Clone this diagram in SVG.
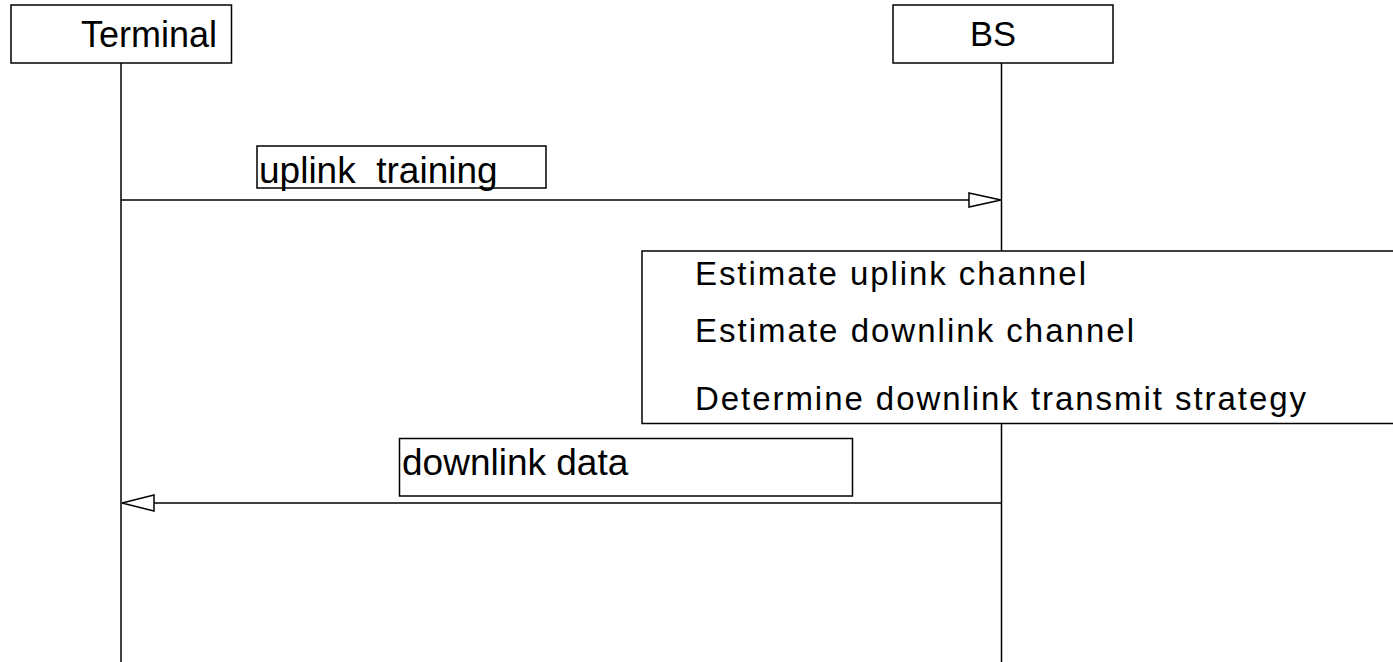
<svg xmlns="http://www.w3.org/2000/svg" width="1393" height="662" viewBox="0 0 1393 662">
<style>
.box{fill:#fff;stroke:#000;stroke-width:1.5}
.line{stroke:#000;stroke-width:1.5;fill:none}
.head{fill:#fff;stroke:#000;stroke-width:1.5;stroke-linejoin:miter}
text{font-family:"Liberation Sans",Arial,sans-serif;fill:#000}
.t{font-size:36px}
.p{font-size:33px}
</style>
<rect width="1393" height="662" fill="#fff"/>
<g id="lifelines">
<line class="line" x1="121" y1="63" x2="121" y2="662"/>
<line class="line" x1="1001.5" y1="63" x2="1001.5" y2="662"/>
</g>
<g id="terminal">
<rect class="box" x="11" y="5" width="220.5" height="58"/>
<text class="t" x="81" y="47">Terminal</text>
</g>
<g id="bs">
<rect class="box" x="893" y="5" width="220" height="58"/>
<text class="t" x="970" y="46" style="font-size:34.5px">BS</text>
</g>
<g id="connectors">
<line class="line" x1="121" y1="200" x2="969" y2="200"/>
<polygon class="head" points="969,193 1001,200 969,207"/>
<line class="line" x1="154" y1="503" x2="1001.5" y2="503"/>
<polygon class="head" points="154,495 122,503 154,511"/>
</g>
<g id="uplink-label">
<rect class="box" x="257" y="146" width="289" height="42"/>
<text class="t" x="259" y="183" style="font-size:37px" xml:space="preserve">uplink  training</text>
</g>
<g id="process">
<rect class="box" x="642" y="251" width="760" height="172.5"/>
<text class="p" x="695" y="285" textLength="391" lengthAdjust="spacing">Estimate uplink channel</text>
<text class="p" x="695" y="342" textLength="439" lengthAdjust="spacing">Estimate downlink channel</text>
<text class="p" x="695" y="410" textLength="611" lengthAdjust="spacing">Determine downlink transmit strategy</text>
</g>
<g id="downlink-label">
<rect class="box" x="399.5" y="438.5" width="453" height="57.5"/>
<text class="t" x="402" y="475" style="font-size:37px">downlink data</text>
</g>
</svg>
